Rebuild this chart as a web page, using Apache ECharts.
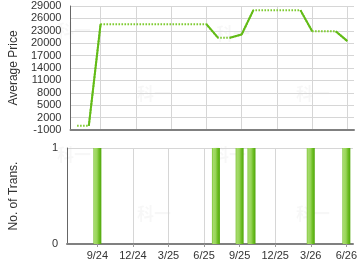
<!DOCTYPE html>
<html><head><meta charset="utf-8">
<script src="https://cdn.jsdelivr.net/npm/echarts@6/dist/echarts.min.js"></script>
<style>html,body{margin:0;padding:0;background:#fff}#c{width:360px;height:270px}</style>
</head><body><div id="c"></div>
<script>
// Monthly data
var months = ['2024-07','2024-08','2024-09','2024-10','2024-11','2024-12','2025-01','2025-02','2025-03','2025-04','2025-05','2025-06','2025-07','2025-08','2025-09','2025-10','2025-11','2025-12','2026-01','2026-02','2026-03','2026-04','2026-05','2026-06'];
var avgPrice = [0,0,24600,24600,24600,24600,24600,24600,24600,24600,24600,24600,21300,21300,22100,28000,28000,28000,28000,28000,22900,22900,22900,20500];
var trans = [0,0,1,0,0,0,0,0,0,0,0,0,1,0,1,1,0,0,0,0,1,0,0,1];
var tickMonths = ['2024-09','2024-12','2025-03','2025-06','2025-09','2025-12','2026-03','2026-06'];

function idx(m){var p=m.split('-');return (+p[0]-2024)*12+(+p[1])-6;}
function lbl(v){var y=2024+Math.floor((v+5)/12);var mo=((v+5)%12)+1;return mo+'/'+String(y).slice(2);}
var tickIdx = tickMonths.map(idx);
var FONT = 'Liberation Sans, Arial, sans-serif';
var green = '#62bb17';

var series = [{
  type:'line', xAxisIndex:0, yAxisIndex:0, symbol:'none', silent:true,
  data: months.map(function(m,i){return [idx(m), avgPrice[i]];}),
  lineStyle:{color:'#7fcb32', width:2, type:[1.6,1.4]}, z:2
}];
for (var i=1;i<months.length;i++){
  if (trans[i]>0){
    series.push({type:'line', xAxisIndex:0, yAxisIndex:0, symbol:'none', silent:true,
      data:[[idx(months[i-1]),avgPrice[i-1]],[idx(months[i]),avgPrice[i]]],
      lineStyle:{color:green,width:2,type:'solid'}, z:3});
  }
}
series.push({
  type:'bar', xAxisIndex:1, yAxisIndex:1, barWidth:8, silent:true,
  data: months.map(function(m,i){return [idx(m), trans[i]];}),
  itemStyle:{color:new echarts.graphic.LinearGradient(0,0,1,0,[
    {offset:0,color:'#78c030'},{offset:0.15,color:'#a6dc6c'},{offset:0.45,color:'#98d45a'},
    {offset:0.7,color:'#6fbf26'},{offset:1,color:'#4fa60a'}])}
});

var xCommon = function(gi, showLabel){
  return {type:'value', gridIndex:gi, min:0.44, max:24.56,
    axisLine:{show:true, onZero:false, lineStyle:{color:'#808080', width:2}},
    axisTick:{show:showLabel, customValues:tickIdx, length:3, lineStyle:{color:'#999'}},
    axisLabel:{show:showLabel, customValues:tickIdx, formatter:function(v){return lbl(v);}, color:'#333', fontSize:11, fontFamily:FONT, margin:6},
    splitLine:{show:true, lineStyle:{color:'#d6d6d6', width:1}}};
};

var wm = function(x,y){return {type:'text', left:x, top:y, silent:true, z:0,
  style:{text:'科一', fill:'rgba(0,0,0,0.03)', font:'bold 17px "Noto Sans CJK SC"'}};};

var yLabel = {color:'#333', fontSize:11, fontFamily:FONT, margin:9, formatter:function(v){return String(v);}};

var option = {
  animation:false,
  grid:[{left:65,right:6,top:6,height:124},{left:65,right:6,top:148,height:96}],
  xAxis:[xCommon(0,false), xCommon(1,true)],
  yAxis:[{type:'value', gridIndex:0, min:-1000, max:29000, interval:3000,
      name:'Average Price', nameLocation:'middle', nameGap:45,
      nameTextStyle:{color:'#333', fontSize:12, fontFamily:FONT},
      axisLine:{show:true, lineStyle:{color:'#666', width:1}}, axisTick:{show:false},
      axisLabel:yLabel,
      splitLine:{show:true, lineStyle:{color:'#d6d6d6'}}},
    {type:'value', gridIndex:1, min:0, max:1, interval:1,
      name:'No. of Trans.', nameLocation:'middle', nameGap:47,
      nameTextStyle:{color:'#333', fontSize:12, fontFamily:FONT},
      axisLine:{show:true, lineStyle:{color:'#666', width:1}}, axisTick:{show:false},
      axisLabel:yLabel,
      splitLine:{show:true, lineStyle:{color:'#d6d6d6'}}}],
  graphic:[wm(57,22),wm(137,85),wm(216,25),wm(296,85),wm(57,146),wm(137,205),wm(212,146),wm(296,205)],
  series:series
};
var chart = echarts.init(document.getElementById('c'), null, {renderer:'canvas'});
chart.setOption(option);
</script></body></html>
